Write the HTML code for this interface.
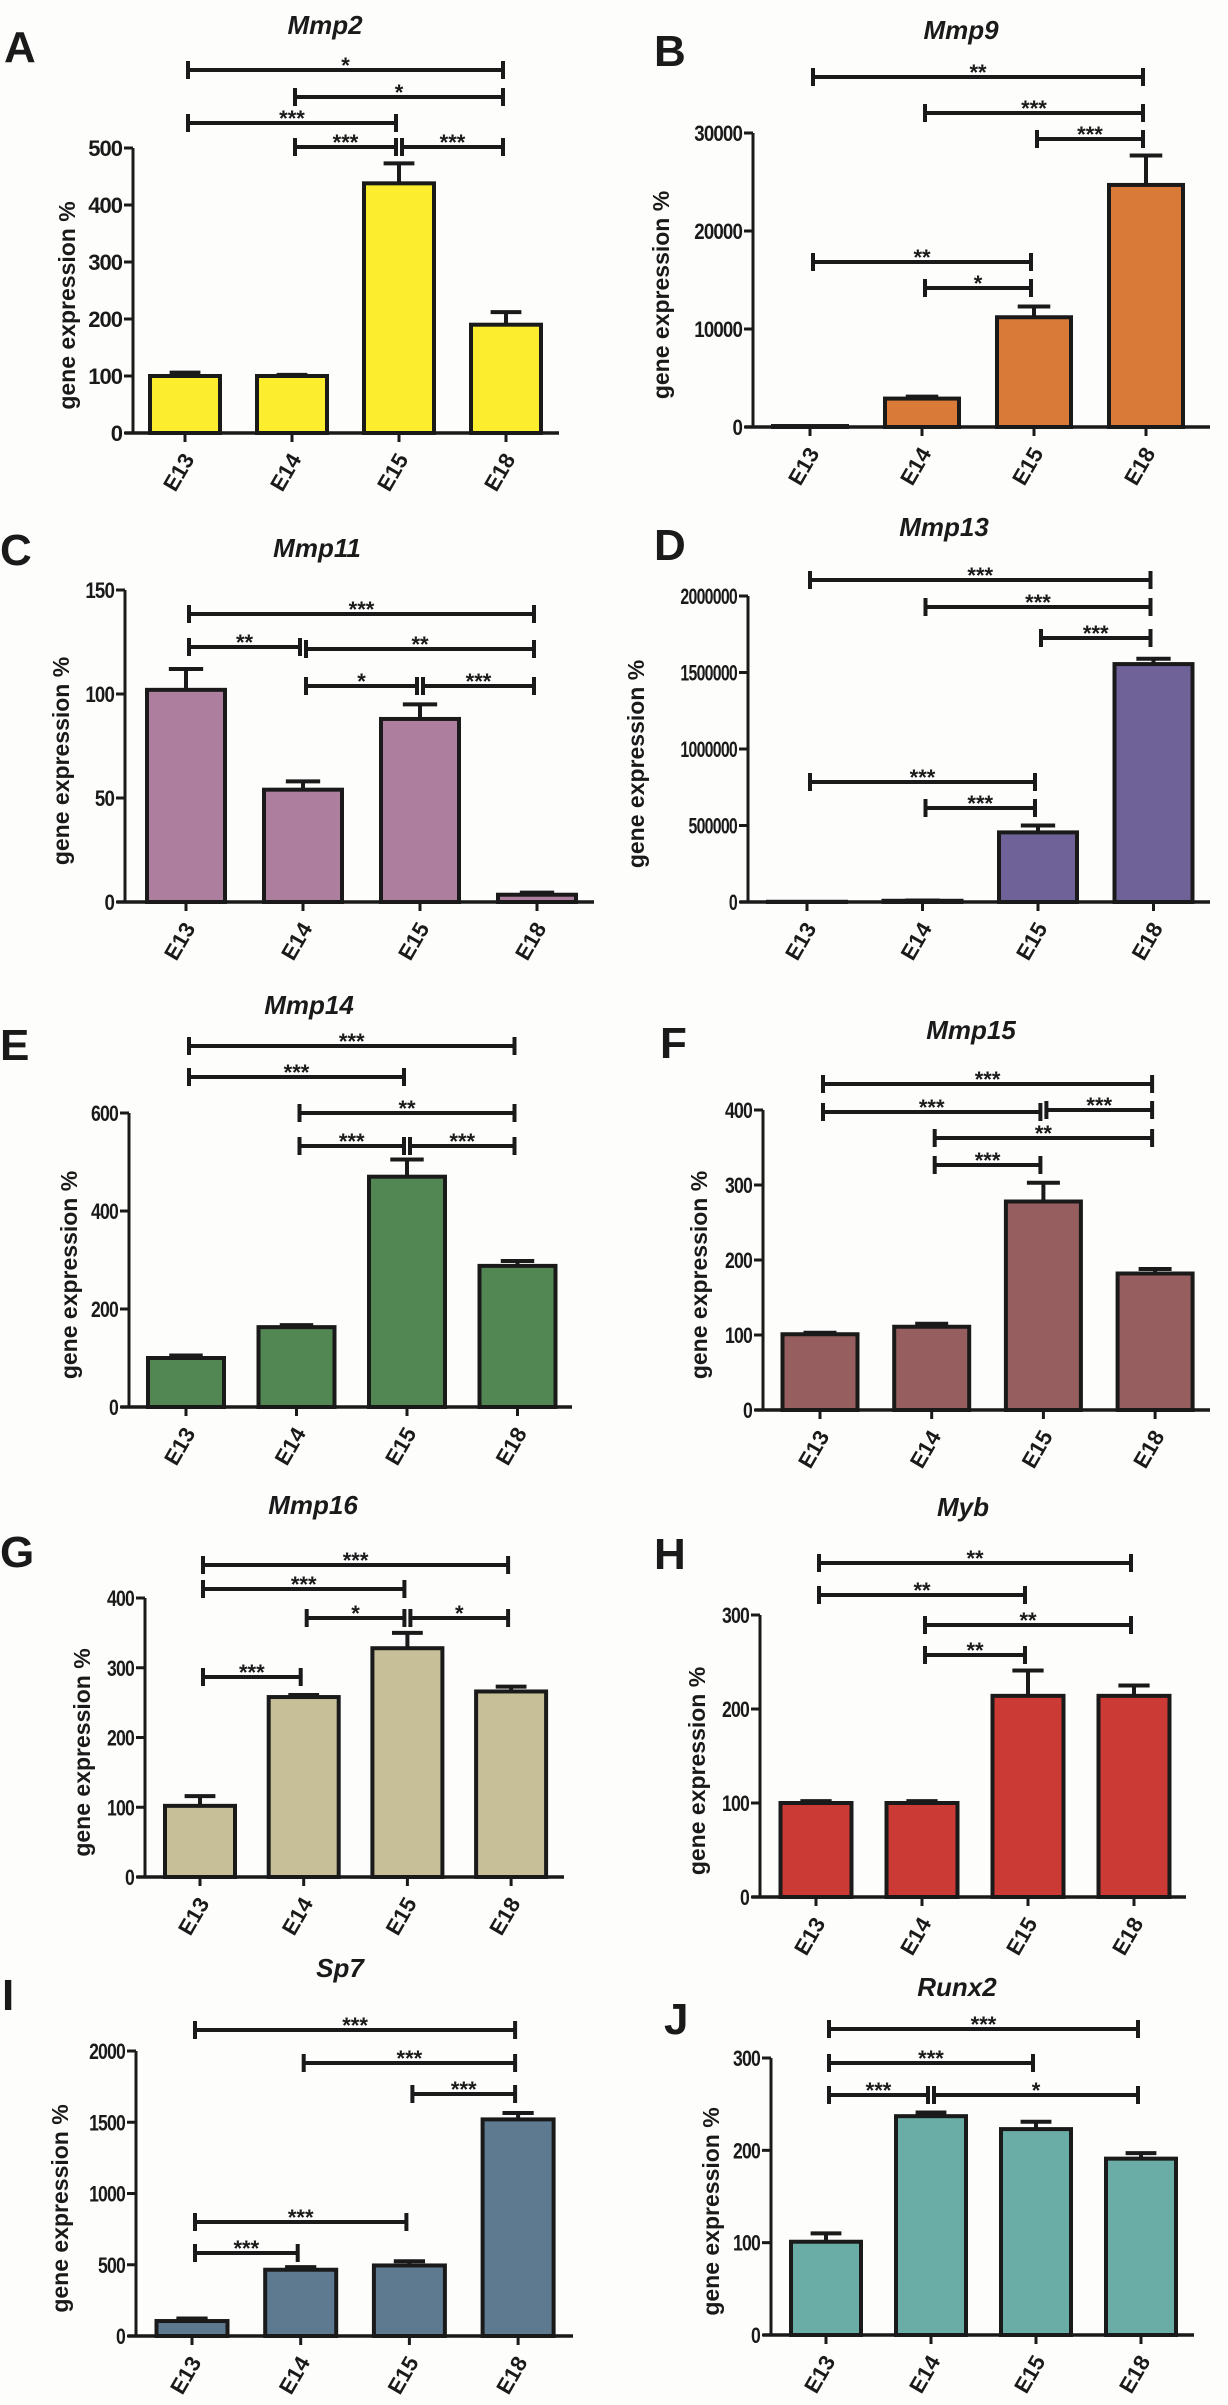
<!DOCTYPE html>
<html>
<head>
<meta charset="utf-8">
<style>
  html, body { margin:0; padding:0; background:#fdfdfc; }
  svg { display:block; }
  text { font-family:"Liberation Sans", Arial, sans-serif; font-weight:bold; fill:#1a1a1a; }
</style>
</head>
<body>
<svg id="fig" width="1228" height="2405" viewBox="0 0 1228 2405" xmlns="http://www.w3.org/2000/svg"></svg>
<script>
// ---- data arrays ----
const categories = ["E13","E14","E15","E18"];
const panelLetters = ["A","B","C","D","E","F","G","H","I","J"];
const panelTitles = ["Mmp2","Mmp9","Mmp11","Mmp13","Mmp14","Mmp15","Mmp16","Myb","Sp7","Runx2"];
const valuesA = [100,100,438,190];       const errA = [6,2,35,22];
const valuesB = [100,2900,11200,24700];  const errB = [0,200,1100,3000];
const valuesC = [102,54,88,3.5];         const errC = [10,4,7,1];
const valuesD = [1500,8000,455000,1555000]; const errD = [0,2000,45000,35000];
const valuesE = [100,163,470,288];       const errE = [5,4,35,10];
const valuesF = [101,111,278,182];       const errF = [2,4,25,6];
const valuesG = [102,258,328,266];       const errG = [14,3,22,7];
const valuesH = [100,100,214,214];       const errH = [2,2,27,11];
const valuesI = [105,465,495,1520];      const errI = [18,18,30,45];
const valuesJ = [101,237,223,191];       const errJ = [9,4,8,6];
const ticksA = [0,100,200,300,400,500];
const ticksB = [0,10000,20000,30000];
const ticksC = [0,50,100,150];
const ticksD = [0,500000,1000000,1500000,2000000];
const ticksE = [0,200,400,600];
const ticksF = [0,100,200,300,400];
const ticksG = [0,100,200,300,400];
const ticksH = [0,100,200,300];
const ticksI = [0,500,1000,1500,2000];
const ticksJ = [0,100,200,300];
// significance brackets: [fromIndex, toIndex, label]
const sigA = [[0,3,"*"],[1,3,"*"],[0,2,"***"],[1,2,"***"],[2,3,"***"]];
const sigB = [[0,3,"**"],[1,3,"***"],[2,3,"***"],[0,2,"**"],[1,2,"*"]];
const sigC = [[0,3,"***"],[0,1,"**"],[1,3,"**"],[1,2,"*"],[2,3,"***"]];
const sigD = [[0,3,"***"],[1,3,"***"],[2,3,"***"],[0,2,"***"],[1,2,"***"]];
const sigE = [[0,3,"***"],[0,2,"***"],[1,3,"**"],[1,2,"***"],[2,3,"***"]];
const sigF = [[0,3,"***"],[0,2,"***"],[2,3,"***"],[1,3,"**"],[1,2,"***"]];
const sigG = [[0,3,"***"],[0,2,"***"],[1,2,"*"],[2,3,"*"],[0,1,"***"]];
const sigH = [[0,3,"**"],[0,2,"**"],[1,3,"**"],[1,2,"**"]];
const sigI = [[0,3,"***"],[1,3,"***"],[2,3,"***"],[0,2,"***"],[0,1,"***"]];
const sigJ = [[0,3,"***"],[0,2,"***"],[0,1,"***"],[1,3,"*"]];

// ---- layout (pixels) ----
const layouts = [
 {ax:133,xEnd:559,y0:433,yTop:148,c0:185,sp:107,bw:70,tx:325,ty:25,lx:4,ly:62,ytOff:66,tsx:1,sigY:[70,97,123,147,147],color:"#fcee2e",vals:valuesA,errs:errA,ticks:ticksA,sig:sigA},
 {ax:753,xEnd:1210,y0:427,yTop:133,c0:810,sp:112,bw:74,tx:961,ty:30,lx:654,ly:66,ytOff:92,tsx:0.85,sigY:[77,113,139,262,288],color:"#d97a38",vals:valuesB,errs:errB,ticks:ticksB,sig:sigB},
 {ax:125,xEnd:594,y0:902,yTop:590,c0:186,sp:117,bw:78,tx:317,ty:548,lx:0,ly:565,ytOff:64,tsx:0.85,sigY:[614,647,649,686,686],color:"#ae7e9e",vals:valuesC,errs:errC,ticks:ticksC,sig:sigC},
 {ax:748,xEnd:1210,y0:902,yTop:596,c0:807,sp:115.5,bw:78,tx:944,ty:527,lx:654,ly:560,ytOff:112,tsx:0.72,sigY:[580,607,638,782,808],color:"#6f6299",vals:valuesD,errs:errD,ticks:ticksD,sig:sigD},
 {ax:129,xEnd:572,y0:1407,yTop:1113,c0:186,sp:110.5,bw:76,tx:309,ty:1005,lx:0,ly:1060,ytOff:60,tsx:0.8,sigY:[1046,1077,1113,1146,1146],color:"#528754",vals:valuesE,errs:errE,ticks:ticksE,sig:sigE},
 {ax:763,xEnd:1210,y0:1410,yTop:1110,c0:820,sp:111.7,bw:75,tx:971,ty:1030,lx:660,ly:1058,ytOff:64,tsx:0.8,sigY:[1084,1112,1110,1138,1165],color:"#965e5e",vals:valuesF,errs:errF,ticks:ticksF,sig:sigF},
 {ax:145,xEnd:564,y0:1877,yTop:1598,c0:200,sp:103.7,bw:70,tx:313,ty:1505,lx:0,ly:1567,ytOff:63,tsx:0.8,sigY:[1565,1589,1618,1618,1677],color:"#c6bf98",vals:valuesG,errs:errG,ticks:ticksG,sig:sigG},
 {ax:760,xEnd:1186,y0:1897,yTop:1615,c0:816,sp:106,bw:71,tx:963,ty:1507,lx:654,ly:1569,ytOff:63,tsx:0.8,sigY:[1563,1595,1625,1655],color:"#cb3a35",vals:valuesH,errs:errH,ticks:ticksH,sig:sigH},
 {ax:136,xEnd:573,y0:2336,yTop:2051,c0:192,sp:108.7,bw:71,tx:340,ty:1968,lx:2,ly:2010,ytOff:76,tsx:0.8,sigY:[2030,2063,2094,2222,2253],color:"#5d7a91",vals:valuesI,errs:errI,ticks:ticksI,sig:sigI},
 {ax:771,xEnd:1194,y0:2335,yTop:2058,c0:826,sp:105,bw:70,tx:957,ty:1987,lx:664,ly:2034,ytOff:60,tsx:0.8,sigY:[2029,2063,2095,2095],color:"#6aaca6",vals:valuesJ,errs:errJ,ticks:ticksJ,sig:sigJ}
];

const NS = "http://www.w3.org/2000/svg";
const svg = document.getElementById("fig");
function mk(tag, attrs, parent){
  const e = document.createElementNS(NS, tag);
  for (const k in attrs) e.setAttribute(k, attrs[k]);
  parent.appendChild(e);
  return e;
}
const INK = "#1a1a1a";

layouts.forEach((L, p) => {
  const g = mk("g", {}, svg);
  
  
  const maxT = L.ticks[L.ticks.length-1];
  const yScale = v => L.y0 - (v / maxT) * (L.y0 - L.yTop);
  const xScale = i => L.c0 + i * L.sp;

  const lt = mk("text", {x:L.lx, y:L.ly, "font-size":44}, g);
  lt.textContent = panelLetters[p];
  
  
  const tt = mk("text", {x:L.tx, y:L.ty+9, "font-size":26, "font-style":"italic", "text-anchor":"middle"}, g);
  tt.textContent = panelTitles[p];
  
  

  L.vals.forEach((v, i) => {
    const cx = xScale(i), yt = yScale(v);
    const r = mk("rect", {x:cx - L.bw/2, y:yt, width:L.bw, height:Math.max(0, L.y0 - yt), fill:L.color, stroke:INK, "stroke-width":4}, g);
    
    
    const e = L.errs[i];
    if (e > 0) {
      const ye = yScale(v + e);
      const eb = mk("path", {d:`M${cx},${yt} V${ye} M${cx - L.bw*0.22},${ye} H${cx + L.bw*0.22}`, stroke:INK, "stroke-width":4, fill:"none"}, g);
      
      
    }
  });

  const ya = mk("line", {x1:L.ax, y1:L.yTop, x2:L.ax, y2:L.y0, stroke:INK, "stroke-width":3}, g);
  
  
  L.ticks.forEach(t => {
    const y = yScale(t);
    mk("line", {x1:L.ax - 9, y1:y, x2:L.ax, y2:y, stroke:INK, "stroke-width":3}, g);
    const tl = mk("text", {x:0, y:0, "font-size":22, "text-anchor":"end", "letter-spacing":"-1", transform:`translate(${L.ax - 11},${y + 8}) scale(${L.tsx},1)`}, g);
    tl.textContent = t;
    
    
  });
  const ymid = (L.y0 + L.yTop) / 2 + 15;
  const yt = mk("text", {x:0, y:0, "font-size":23, "text-anchor":"middle", transform:`translate(${L.ax - L.ytOff + 8},${ymid}) rotate(-90)`}, g);
  yt.textContent = "gene expression %";
  
  

  const xa = mk("line", {x1:L.ax - 8, y1:L.y0, x2:L.xEnd, y2:L.y0, stroke:INK, "stroke-width":3.5}, g);
  
  
  categories.forEach((c, i) => {
    const cx = xScale(i);
    mk("line", {x1:cx, y1:L.y0, x2:cx, y2:L.y0 + 9, stroke:INK, "stroke-width":3}, g);
    const xl = mk("text", {x:0, y:0, "font-size":22, "text-anchor":"end", transform:`translate(${cx + 10},${L.y0 + 26}) rotate(-60)`}, g);
    xl.textContent = c;
    
    
  });

  L.sig.forEach((s, k) => {
    const y = L.sigY[k];
    const x1 = xScale(s[0]) + 3, x2 = xScale(s[1]) - 3;
    const br = mk("path", {d:`M${x1},${y-9} V${y+9} M${x1},${y} H${x2} M${x2},${y-9} V${y+9}`, stroke:INK, "stroke-width":4, fill:"none"}, g);
    
    
    const sl = mk("text", {x:(x1 + x2) / 2, y:y + 3, "font-size":22, "text-anchor":"middle"}, g);
    sl.textContent = s[2];
    
    
  });
});
</script>
</body>
</html>
